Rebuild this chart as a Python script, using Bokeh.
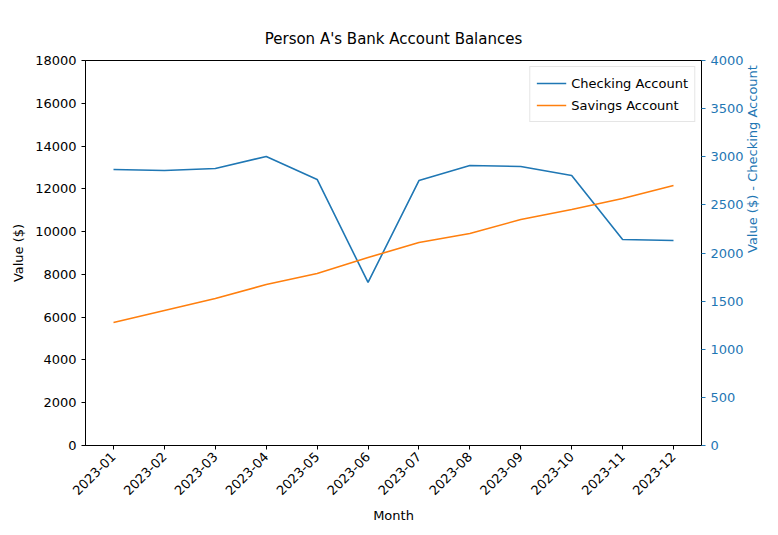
import math
from bokeh.plotting import figure
from bokeh.models import LinearAxis, Range1d, Legend, LegendItem, FixedTicker, Title
from bokeh.embed import file_html
from bokeh.resources import INLINE

months = ["2023-01", "2023-02", "2023-03", "2023-04", "2023-05", "2023-06",
          "2023-07", "2023-08", "2023-09", "2023-10", "2023-11", "2023-12"]
checking = [2868, 2857, 2878, 3003, 2764, 1694, 2753, 2909, 2899, 2805, 2140, 2130]
savings = [5750, 6311, 6872, 7527, 8041, 8789, 9490, 9911, 10566, 11033, 11547, 12155]

BLUE = "#1f77b4"
ORANGE = "#ff7f0e"
FONT = "DejaVu Sans"

x = list(range(len(months)))

p = figure(width=770, height=527, output_backend="svg", toolbar_location=None,
           x_range=Range1d(-0.55, 11.55), y_range=Range1d(0, 18000),
           min_border_left=85, min_border_right=67, min_border_top=60, min_border_bottom=82)
p.title = Title(text="Person A's Bank Account Balances", align="center",
                text_font=FONT, text_font_size="15px", text_font_style="normal",
                text_color="black", standoff=26)
p.grid.visible = False
p.outline_line_color = "black"
p.extra_y_ranges = {"right": Range1d(0, 4000)}

r_chk = p.line(x, checking, color=BLUE, line_width=1.6, y_range_name="right")
r_sav = p.line(x, savings, color=ORANGE, line_width=1.6)

p.xaxis.ticker = FixedTicker(ticks=x)
p.xaxis.major_label_overrides = {i: m for i, m in enumerate(months)}
p.xaxis.major_label_orientation = math.pi / 4
p.xaxis.axis_label = "Month"
p.yaxis.axis_label = "Value ($)"
p.yaxis.ticker = FixedTicker(ticks=list(range(0, 18001, 2000)))

right = LinearAxis(y_range_name="right", axis_label="Value ($) - Checking Account",
                   ticker=FixedTicker(ticks=list(range(0, 4001, 500))))
p.add_layout(right, "right")

for ax in p.xaxis + p.yaxis:
    ax.major_label_text_color = "black"
    ax.axis_label_text_color = "black"
    ax.axis_line_color = "black"
    ax.major_tick_line_color = "black"

for ax in p.xaxis + p.yaxis + [right]:
    ax.axis_label_text_font = FONT
    ax.axis_label_text_font_size = "13px"
    ax.axis_label_text_font_style = "normal"
    ax.major_label_text_font = FONT
    ax.major_label_text_font_size = "13px"
    ax.minor_tick_line_color = None
    ax.major_tick_out = 4
    ax.major_tick_in = 0
    ax.axis_label_standoff = 6

right.major_label_text_color = BLUE
right.axis_label_text_color = BLUE
right.major_tick_line_color = BLUE
right.axis_label_orientation = math.pi / 2

legend = Legend(items=[LegendItem(label="Checking Account", renderers=[r_chk]),
                       LegendItem(label="Savings Account", renderers=[r_sav])],
                location="top_right", label_text_font=FONT, label_text_font_size="13px",
                label_text_color="black",
                border_line_color="#cccccc", glyph_width=30, spacing=2, padding=6, margin=6)
p.add_layout(legend)

open("out.html", "w").write(file_html(p, INLINE))
